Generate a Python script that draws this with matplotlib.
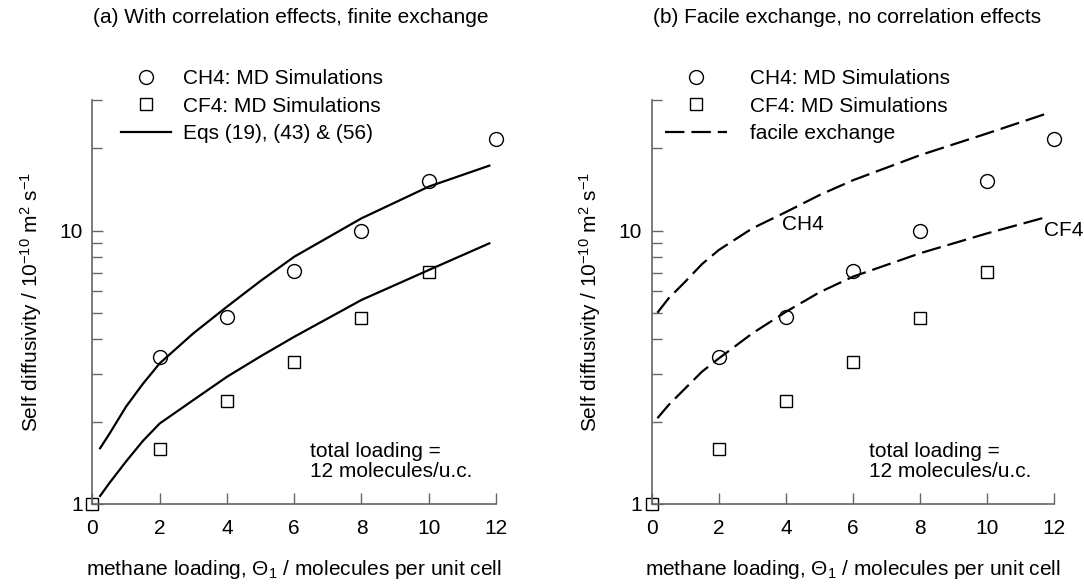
import matplotlib
matplotlib.use('Agg')
import matplotlib.pyplot as plt
from matplotlib.ticker import FixedLocator, NullFormatter, FixedFormatter

plt.rcParams['font.family'] = ['Liberation Sans', 'DejaVu Sans']
plt.rcParams['mathtext.fontset'] = 'custom'
plt.rcParams['mathtext.rm'] = 'Liberation Sans'
plt.rcParams['mathtext.it'] = 'Liberation Sans:italic'
plt.rcParams['lines.scale_dashes'] = False

# MD simulation points
ch4_x = [2, 4, 6, 8, 10, 12]
ch4_md = [3.46, 4.84, 7.12, 9.97, 15.2, 21.6]
cf4_x = [0, 2, 4, 6, 8, 10]
cf4_md = [1.0, 1.59, 2.38, 3.32, 4.78, 7.08]

# (a) model curves, Eqs (19), (43) & (56)
eq_x = [0.23, 0.5, 1, 1.5, 2, 3, 4, 5, 6, 8, 10, 11.8]
eq_ch4 = [1.60, 1.80, 2.27, 2.75, 3.27, 4.21, 5.27, 6.55, 8.03, 11.1, 14.5, 17.3]
eq_cf4 = [1.07, 1.19, 1.43, 1.70, 1.97, 2.40, 2.92, 3.47, 4.09, 5.58, 7.18, 8.99]

# (b) facile exchange curves
fe_x = [0.17, 0.5, 1, 1.5, 2, 3, 4, 5, 6, 8, 10, 11.8]
fe_ch4 = [5.01, 5.65, 6.51, 7.55, 8.5, 10.2, 11.7, 13.5, 15.3, 18.9, 22.7, 26.9]
fe_cf4 = [2.06, 2.30, 2.65, 3.05, 3.41, 4.21, 5.05, 5.95, 6.79, 8.27, 9.78, 11.25]

FS = 15
ylab = r'Self diffusivity / 10$^{-10}$ m$^{2}$ s$^{-1}$'
xlab = r'methane loading, $\Theta_1$ / molecules per unit cell'


def style_axes(ax):
    ax.set_yscale('log')
    ax.set_xlim(0, 12)
    ax.set_ylim(1, 30)
    for s in ['top', 'right']:
        ax.spines[s].set_visible(False)
    for s in ['left', 'bottom']:
        ax.spines[s].set_color('0.4')
        ax.spines[s].set_linewidth(1.2)
    ax.set_xticks(range(0, 13, 2))
    ax.yaxis.set_major_locator(FixedLocator([1, 10]))
    ax.yaxis.set_major_formatter(FixedFormatter(['1', '10']))
    ax.yaxis.set_minor_locator(FixedLocator([2, 3, 4, 5, 6, 7, 8, 9, 20, 30]))
    ax.yaxis.set_minor_formatter(NullFormatter())
    ax.tick_params(which='both', direction='in', color='0.4', width=1.0,
                   labelsize=FS)
    ax.tick_params(which='major', length=8)
    ax.tick_params(which='minor', length=7)
    ax.tick_params(axis='x', pad=11)
    ax.tick_params(axis='y', pad=7)
    ax.set_ylabel(ylab, fontsize=FS, labelpad=11)
    ax.set_xlabel(xlab, fontsize=FS, labelpad=14)
    ax.text(6.48, 1.43, 'total loading =\n12 molecules/u.c.', fontsize=FS,
            va='center', ha='left', linespacing=1.05)


def plot_md(ax):
    c, = ax.plot(ch4_x, ch4_md, 'o', ms=10, mfc='none', mec='black',
                 mew=1.0, clip_on=False, label='CH4: MD Simulations')
    s, = ax.plot(cf4_x, cf4_md, 's', ms=9, mfc='none', mec='black',
                 mew=1.0, clip_on=False, label='CF4: MD Simulations')
    return c, s


fig = plt.figure(figsize=(10.84, 5.87), dpi=100)
ax1 = fig.add_axes([0.0852, 0.1414, 0.3724, 0.6877])
ax2 = fig.add_axes([0.6012, 0.1414, 0.3714, 0.6877])

# panel (a)
style_axes(ax1)
c, s = plot_md(ax1)
l, = ax1.plot(eq_x, eq_ch4, color='black', lw=1.6,
              label='Eqs (19), (43) & (56)')
ax1.plot(eq_x, eq_cf4, color='black', lw=1.6)
ax1.legend(handles=[c, s, l], loc='upper left', bbox_to_anchor=(0.07, 1.078),
           frameon=False, fontsize=FS, borderaxespad=0, borderpad=0,
           handlelength=2.4, handletextpad=0.6, labelspacing=0.42)
fig.text(0.268, 0.97, '(a) With correlation effects, finite exchange',
         fontsize=FS, ha='center', va='center')

# panel (b)
style_axes(ax2)
c, s = plot_md(ax2)
d, = ax2.plot(fe_x, fe_ch4, color='black', lw=1.6, dashes=(14, 5),
              label='facile exchange')
ax2.plot(fe_x, fe_cf4, color='black', lw=1.6, dashes=(14, 5))
ax2.legend(handles=[c, s, d], loc='upper left', bbox_to_anchor=(0.033, 1.078),
           frameon=False, fontsize=FS, borderaxespad=0, borderpad=0,
           handlelength=3.0, handletextpad=1.1, labelspacing=0.42)
ax2.text(3.88, 10.5, 'CH4', fontsize=FS, va='center', ha='left')
ax2.text(11.69, 10.0, 'CF4', fontsize=FS, va='center', ha='left')
fig.text(0.781, 0.97, '(b) Facile exchange, no correlation effects',
         fontsize=FS, ha='center', va='center')

fig.savefig('out.png', dpi=100)
